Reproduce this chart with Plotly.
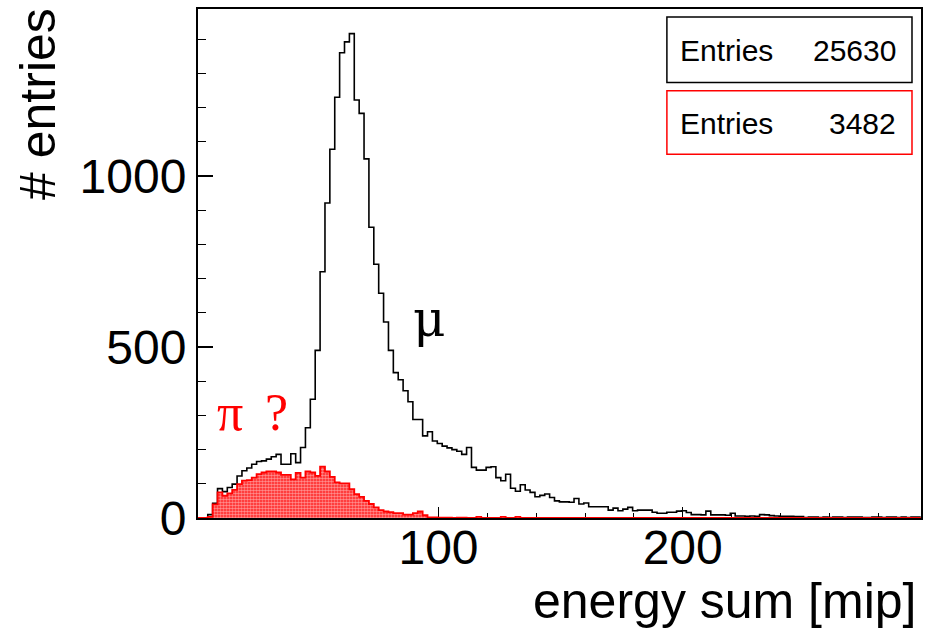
import plotly.graph_objects as go

# ---- data -------------------------------------------------------------
bin_start = 1.5     # left edge of first bin [mip]
bin_width = 2.0     # bin width [mip]

# muon candidates (black histogram), 148 bins
mu_counts = [
    0, 0, 10, 43, 86, 77, 89, 99, 123, 138, 146, 157, 165, 167, 172, 179, 186, 157, 157, 188, 162, 206,
    264, 347, 490, 720, 921, 1078, 1230, 1360, 1392, 1416, 1222, 1183, 1050, 850, 742,
    657, 573, 490, 425, 404, 372, 340, 288, 288, 240, 252,
    225, 218, 210, 205, 200, 195, 186, 206, 148, 140, 140, 148, 150,
    118, 109, 128, 87, 78, 97, 82, 75, 62, 66, 70, 60, 50, 47, 47, 46, 57, 41, 44, 33,
    33, 33, 33, 23, 29, 21, 26, 31, 21, 23, 23, 23, 17, 14, 14, 17, 17, 20,
    21, 16, 10, 10, 9, 20, 9, 9, 9, 8, 14, 6, 6, 5, 6, 5, 10, 9, 7, 6, 5, 5, 5, 4, 4,
    1, 3, 3, 1, 3, 1, 3, 3, 1, 3, 3, 3, 1, 1, 3, 3, 1, 3, 3, 1, 3, 1, 3, 3,
]

# pion candidates (red histogram), 148 bins
pi_counts = [
    0, 0, 3, 40, 75, 65, 72, 82, 99, 109, 111, 118, 128, 133, 136, 136, 133, 126, 126, 113,
    132, 118, 136, 133, 123, 150, 136, 120, 104, 101, 101, 84, 70, 62, 50, 41, 31, 23, 19, 17,
    14, 14, 10, 10, 14, 19, 8, 2,
    2, 1, 1, 1, 0, 1, 1, 0, 0, 3, 0, 0, 0, 0, 3, 0, 0, 3,
] + [0] * 82

mu_entries = 25630
pi_entries = 3482

x_ticks = [100, 200]
y_ticks = [0, 500, 1000]
x_range = [1.5, 297.6]
y_range = [0, 1488]

# ---- build step outlines ---------------------------------------------
n_bins = len(mu_counts)
edges = [bin_start + bin_width * i for i in range(n_bins + 1)]

def steps(vals):
    return edges, list(vals) + [vals[-1]]

fig = go.Figure()

mx, my = steps(mu_counts)
fig.add_trace(go.Scatter(x=mx, y=my, mode="lines", line=dict(color="black", width=1.6, shape="hv"),
                         showlegend=False, hoverinfo="skip"))

px_, py_ = steps(pi_counts)
fig.add_trace(go.Scatter(x=px_, y=py_, mode="lines", line=dict(color="#ff0000", width=1.8, shape="hv"),
                         fill="tozeroy",
                         fillpattern=dict(shape=".", fgcolor="white", bgcolor="#ff1a1a", size=3, solidity=0.6),
                         showlegend=False, hoverinfo="skip"))

# ---- layout -----------------------------------------------------------
L, R, T, B = 198, 935 - 920.7, 7, 631 - 518
W, H = 935, 631
pw, ph = W - L - R, H - T - B

def px2x(p):
    return (p - L) / pw

def py2y(p):
    return (H - B - p) / ph

font_axis = dict(family="Liberation Sans, Arial, sans-serif", size=48, color="black")

fig.update_layout(
    width=W, height=H,
    margin=dict(l=L, r=R, t=T, b=B, pad=0),
    paper_bgcolor="white", plot_bgcolor="white",
    showlegend=False,
    xaxis=dict(range=x_range, tickvals=x_ticks, ticktext=[str(v) for v in x_ticks],
               ticks="inside", ticklen=11, tickwidth=1.2, tickcolor="black",
               minor=dict(dtick=20, tick0=0, ticks="inside", ticklen=5, tickwidth=1, tickcolor="black"),
               showline=True, linecolor="black", linewidth=2, mirror=True, layer="below traces",
               ticklabelstandoff=-14,
               showgrid=False, zeroline=False, tickfont=font_axis),
    yaxis=dict(range=y_range, tickvals=y_ticks, ticktext=[str(v) for v in y_ticks],
               ticks="inside", ticklen=15, tickwidth=1.5, tickcolor="black",
               minor=dict(dtick=100, tick0=0, ticks="inside", ticklen=8, tickwidth=1.2, tickcolor="black"),
               showline=True, linecolor="black", linewidth=2, mirror=True, layer="below traces",
               showgrid=False, zeroline=False, tickfont=font_axis),
)

# axis titles
fig.add_annotation(text="# entries", xref="paper", yref="paper", x=px2x(38), y=py2y(4),
                   xanchor="center", yanchor="top", textangle=-90, showarrow=False,
                   font=dict(family="Liberation Sans, Arial, sans-serif", size=50, color="black"))
fig.add_annotation(text="energy sum [mip]", xref="paper", yref="paper", x=px2x(918), y=py2y(601),
                   xanchor="right", yanchor="middle", showarrow=False,
                   font=dict(family="Liberation Sans, Arial, sans-serif", size=50, color="black"))

# stats boxes
boxes = [(15, 80.7, "black", mu_entries), (89, 152.7, "#ff0000", pi_entries)]
for y0, y1, col, n in boxes:
    fig.add_shape(type="rect", xref="paper", yref="paper", x0=px2x(666.7), x1=px2x(911.7),
                  y0=py2y(y1), y1=py2y(y0), line=dict(color=col, width=1.5), fillcolor="white")
    yc = py2y((y0 + y1) / 2 + 1)
    fig.add_annotation(text="Entries", xref="paper", yref="paper", x=px2x(678), y=yc,
                       xanchor="left", yanchor="middle", showarrow=False,
                       font=dict(family="Liberation Sans, Arial, sans-serif", size=30, color="black"))
    fig.add_annotation(text=str(n), xref="paper", yref="paper", x=px2x(898), y=yc,
                       xanchor="right", yanchor="middle", showarrow=False,
                       font=dict(family="Liberation Sans, Arial, sans-serif", size=30, color="black"))

# particle labels
fig.add_annotation(text="μ", xref="paper", yref="paper", x=px2x(411), y=py2y(318),
                   xanchor="left", yanchor="middle", showarrow=False,
                   font=dict(family="DejaVu Serif, Liberation Serif, serif", size=50, color="black"))
fig.add_annotation(text="π\u00a0\u2006?", xref="paper", yref="paper", x=px2x(215), y=py2y(412),
                   xanchor="left", yanchor="middle", showarrow=False,
                   font=dict(family="Liberation Serif, Times New Roman, serif", size=52, color="#ff0000"))

fig.write_html("out.html")
